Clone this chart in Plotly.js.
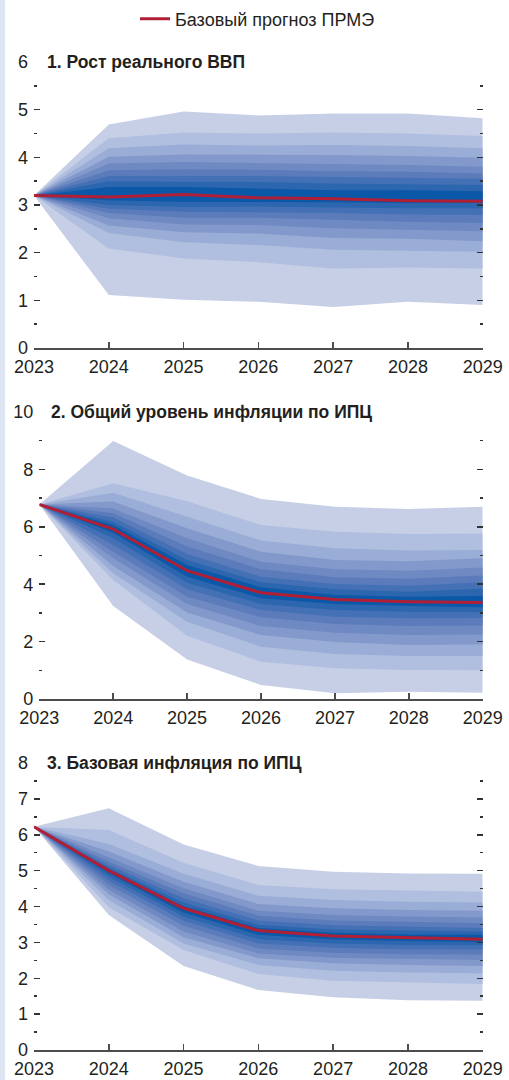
<!DOCTYPE html>
<html><head><meta charset="utf-8">
<script src="https://cdn.plot.ly/plotly-3.0.1.min.js"></script>
<style>html,body{margin:0;padding:0;background:#fff;}#chart{width:509px;height:1080px;}</style>
</head><body><div id="chart"></div>
<script>
const years = [2023, 2024, 2025, 2026, 2027, 2028, 2029];
const legendName = 'Базовый прогноз ПРМЭ';
const titles = ['1. Рост реального ВВП', '2. Общий уровень инфляции по ИПЦ', '3. Базовая инфляция по ИПЦ'];

// Panel 1: real GDP growth. Baseline and band bounds (outer -> inner) for 2024..2029
const gdpBase = [3.20, 3.17, 3.22, 3.15, 3.13, 3.09, 3.08];
const gdpUpper = [
  [4.69, 4.40, 4.19, 4.01, 3.87, 3.73, 3.61, 3.50, 3.38],
  [4.96, 4.52, 4.27, 4.06, 3.90, 3.75, 3.61, 3.49, 3.38],
  [4.88, 4.50, 4.25, 4.06, 3.88, 3.74, 3.61, 3.48, 3.35],
  [4.92, 4.52, 4.26, 4.05, 3.87, 3.71, 3.59, 3.45, 3.31],
  [4.92, 4.50, 4.24, 4.03, 3.84, 3.70, 3.57, 3.44, 3.31],
  [4.82, 4.45, 4.19, 3.99, 3.80, 3.66, 3.55, 3.42, 3.29]
];
const gdpLower = [
  [1.11, 2.09, 2.41, 2.57, 2.72, 2.83, 2.92, 3.00, 3.10],
  [1.01, 1.88, 2.22, 2.43, 2.59, 2.73, 2.86, 2.96, 3.07],
  [0.97, 1.80, 2.16, 2.40, 2.58, 2.73, 2.85, 2.97, 3.06],
  [0.86, 1.67, 2.06, 2.31, 2.51, 2.69, 2.83, 2.95, 3.06],
  [0.97, 1.69, 2.04, 2.29, 2.48, 2.65, 2.80, 2.93, 3.04],
  [0.90, 1.67, 2.02, 2.24, 2.45, 2.62, 2.79, 2.93, 3.04]
];

// Panel 2: headline CPI inflation
const cpiBase = [6.78, 5.92, 4.47, 3.70, 3.47, 3.39, 3.36];
const cpiUpper = [
  [8.99, 7.52, 7.19, 6.88, 6.64, 6.47, 6.32, 6.18, 6.06],
  [7.79, 6.89, 6.35, 5.95, 5.60, 5.31, 5.05, 4.84, 4.67],
  [6.97, 6.06, 5.52, 5.13, 4.78, 4.52, 4.26, 4.07, 3.89],
  [6.70, 5.83, 5.25, 4.84, 4.52, 4.24, 4.01, 3.82, 3.62],
  [6.62, 5.75, 5.17, 4.80, 4.47, 4.19, 3.95, 3.74, 3.56],
  [6.70, 5.77, 5.19, 4.90, 4.58, 4.30, 4.07, 3.84, 3.59]
];
const cpiLower = [
  [3.24, 4.15, 4.38, 4.63, 4.90, 5.13, 5.37, 5.60, 5.79],
  [1.38, 2.20, 2.69, 3.01, 3.31, 3.56, 3.82, 4.05, 4.26],
  [0.49, 1.30, 1.82, 2.23, 2.54, 2.85, 3.10, 3.31, 3.51],
  [0.20, 1.07, 1.57, 1.99, 2.31, 2.61, 2.87, 3.10, 3.31],
  [0.25, 1.01, 1.50, 1.88, 2.23, 2.54, 2.81, 3.04, 3.24],
  [0.22, 1.00, 1.50, 1.90, 2.25, 2.56, 2.82, 3.02, 3.20]
];

// Panel 3: core CPI inflation
const coreBase = [6.22, 5.00, 3.95, 3.33, 3.18, 3.13, 3.09];
const coreUpper = [
  [6.74, 6.13, 5.74, 5.53, 5.37, 5.25, 5.16, 5.08, 5.04],
  [5.73, 5.22, 4.91, 4.69, 4.51, 4.37, 4.23, 4.11, 4.01],
  [5.13, 4.60, 4.30, 4.07, 3.88, 3.74, 3.61, 3.49, 3.40],
  [4.97, 4.48, 4.18, 3.95, 3.76, 3.61, 3.48, 3.36, 3.27],
  [4.92, 4.44, 4.13, 3.90, 3.72, 3.57, 3.44, 3.33, 3.22],
  [4.91, 4.41, 4.11, 3.88, 3.69, 3.53, 3.40, 3.30, 3.21]
];
const coreLower = [
  [3.76, 3.98, 4.18, 4.34, 4.47, 4.60, 4.72, 4.83, 4.93],
  [2.34, 2.79, 2.97, 3.14, 3.30, 3.46, 3.60, 3.72, 3.83],
  [1.67, 2.12, 2.37, 2.56, 2.69, 2.83, 2.97, 3.09, 3.21],
  [1.47, 1.93, 2.21, 2.42, 2.57, 2.71, 2.85, 2.97, 3.08],
  [1.39, 1.88, 2.16, 2.37, 2.53, 2.67, 2.81, 2.93, 3.04],
  [1.37, 1.84, 2.14, 2.34, 2.51, 2.66, 2.80, 2.92, 3.01]
];

const bandColors = ['#c7cfe7', '#b0bedf', '#9aadd6', '#8499cb', '#6f89c2', '#5b7bbb', '#4471b5', '#2c66af', '#0a58a7'];
const lineColor = '#b01f36';
const FONT = "'Liberation Sans', Arial, sans-serif";
const W = 509, H = 1080;

function fan(base, upper, lower, xa, ya) {
  const out = [];
  const revYears = years.slice().reverse();
  for (let k = 0; k < bandColors.length; k++) {
    const hi = [base[0]].concat(upper.map(r => r[k]));
    const lo = [base[0]].concat(lower.map(r => r[k]));
    out.push({
      type: 'scatter', mode: 'lines', x: years.concat(revYears), y: hi.concat(lo.slice().reverse()),
      fill: 'toself', fillcolor: bandColors[k], line: {width: 0, color: bandColors[k]},
      hoverinfo: 'skip', showlegend: false, xaxis: xa, yaxis: ya
    });
  }
  return out;
}
function baseLine(base, xa, ya, show) {
  return {type: 'scatter', mode: 'lines', x: years, y: base, name: legendName, showlegend: show,
    line: {color: lineColor, width: 3}, xaxis: xa, yaxis: ya};
}

const data = []
  .concat(fan(gdpBase, gdpUpper, gdpLower, 'x', 'y'), [baseLine(gdpBase, 'x', 'y', true)])
  .concat(fan(cpiBase, cpiUpper, cpiLower, 'x2', 'y2'), [baseLine(cpiBase, 'x2', 'y2', false)])
  .concat(fan(coreBase, coreUpper, coreLower, 'x3', 'y3'), [baseLine(coreBase, 'x3', 'y3', false)]);

const px = v => v / W, py = v => 1 - v / H;

function xAxis(left, anchor) {
  return {domain: [px(left), px(482.7)], anchor: anchor, range: [2023, 2029], tickmode: 'array', tickvals: years,
    ticktext: years.map(String), ticks: 'inside', ticklen: 6, tickwidth: 1.5, tickcolor: '#4d4d4d',
    showline: true, linecolor: '#4d4d4d', linewidth: 1.5, showgrid: false, zeroline: false,
    tickfont: {family: FONT, size: 18, color: '#231f20'}, ticklabelstandoff: 2, fixedrange: true, automargin: false};
}
function yAxis(top, bottom, max, minorStep, anchor) {
  return {domain: [py(bottom), py(top)], anchor: anchor, range: [0, max], dtick: (max === 10 ? 2 : 1), tick0: 0,
    ticks: 'inside', ticklen: 6, tickwidth: 1.5, tickcolor: '#333', mirror: 'ticks', showline: false,
    minor: {dtick: minorStep, ticks: 'inside', ticklen: 3, tickwidth: 1.5, tickcolor: '#333'},
    showgrid: false, zeroline: false, tickfont: {family: FONT, size: 18, color: '#231f20'},
    ticklabelstandoff: 5, fixedrange: true, automargin: false};
}

const titleFont = {family: FONT, size: 17.5, color: '#231f20'};
const layout = {
  width: W, height: H, margin: {l: 0, r: 0, t: 0, b: 0},
  paper_bgcolor: '#ffffff', plot_bgcolor: 'rgba(0,0,0,0)',
  font: {family: FONT, size: 18, color: '#231f20'},
  xaxis: xAxis(34, 'y'), yaxis: yAxis(62, 348, 6, 0.5, 'x'),
  xaxis2: xAxis(39.3, 'y2'), yaxis2: yAxis(412, 699, 10, 1, 'x2'),
  xaxis3: xAxis(34, 'y3'), yaxis3: yAxis(763, 1050, 8, 0.5, 'x3'),
  showlegend: true,
  legend: {orientation: 'h', x: px(135), xanchor: 'left', y: py(19), yanchor: 'middle',
    font: {family: FONT, size: 18, color: '#231f20'}, bgcolor: 'rgba(0,0,0,0)', itemwidth: 30},
  shapes: [{type: 'rect', xref: 'paper', yref: 'paper', x0: 0, x1: px(5), y0: 0, y1: 1,
    fillcolor: '#dfe6f3', line: {width: 0}, layer: 'below'}],
  annotations: [
    {text: '<b>' + titles[0] + '</b>', xref: 'paper', yref: 'paper', x: px(45), y: py(62), xanchor: 'left', yanchor: 'middle', showarrow: false, font: titleFont},
    {text: '<b>' + titles[1] + '</b>', xref: 'paper', yref: 'paper', x: px(49), y: py(412), xanchor: 'left', yanchor: 'middle', showarrow: false, font: titleFont},
    {text: '<b>' + titles[2] + '</b>', xref: 'paper', yref: 'paper', x: px(45), y: py(763), xanchor: 'left', yanchor: 'middle', showarrow: false, font: titleFont}
  ]
};
Plotly.newPlot('chart', data, layout, {displayModeBar: false, staticPlot: true});
</script></body></html>
